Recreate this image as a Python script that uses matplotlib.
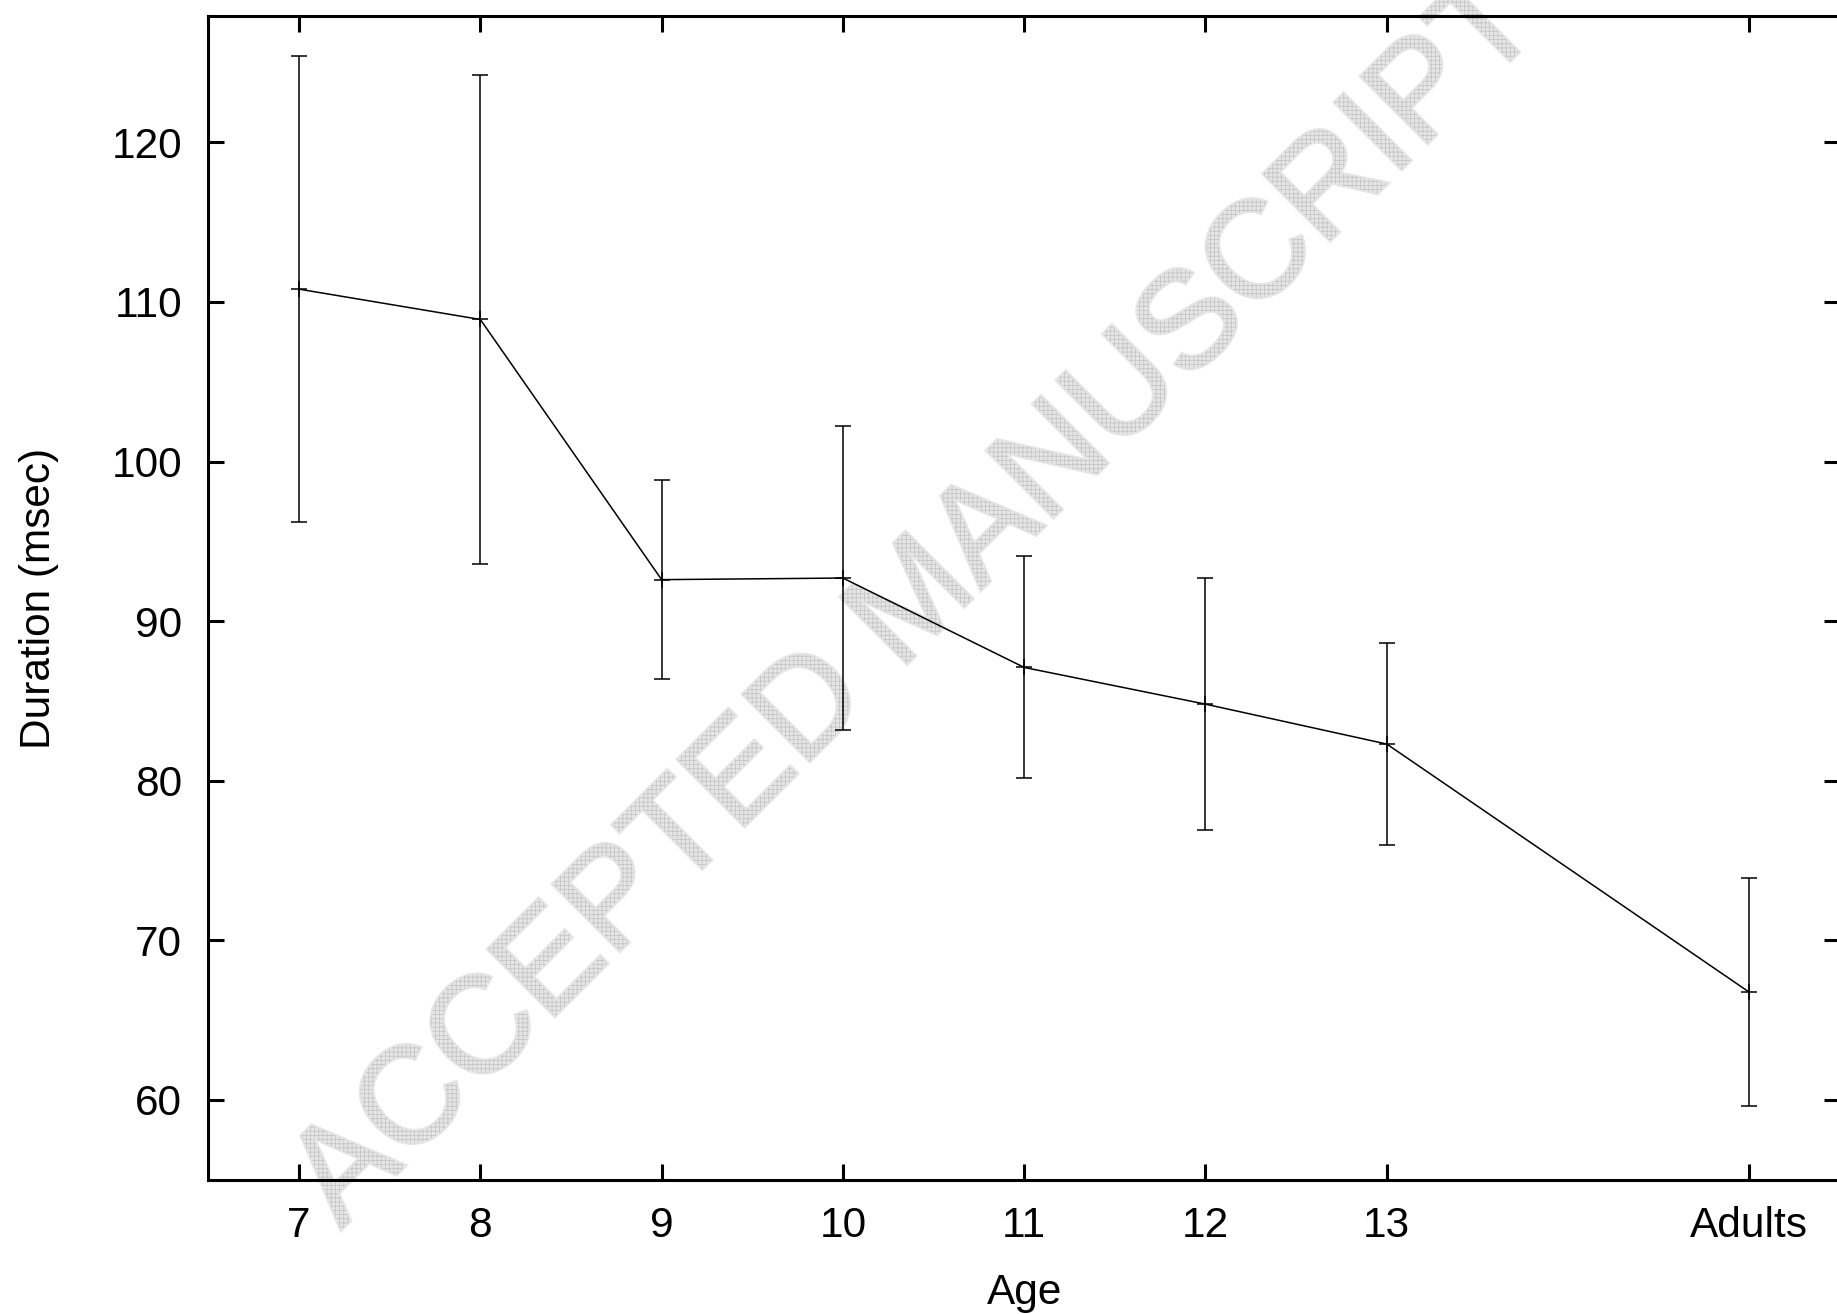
import matplotlib
matplotlib.use("Agg")
import matplotlib.pyplot as plt
from matplotlib.textpath import TextPath
from matplotlib.patches import PathPatch
from matplotlib.font_manager import FontProperties
from matplotlib import transforms
import numpy as np

# ---- data ----
age_positions = [7, 8, 9, 10, 11, 12, 13, 15]
age_labels = ["7", "8", "9", "10", "11", "12", "13", "Adults"]
duration_mean = [110.8, 108.9, 92.6, 92.7, 87.1, 84.8, 82.3, 66.75]
duration_err = [14.6, 15.3, 6.25, 9.5, 6.95, 7.9, 6.3, 7.15]
y_ticks = [60, 70, 80, 90, 100, 110, 120]

plt.rcParams['font.family'] = ['Liberation Sans', 'DejaVu Sans']
plt.rcParams['hatch.linewidth'] = 0.6

W, H = 1837, 1314
fig = plt.figure(figsize=(W / 100, H / 100), dpi=100)
ax = fig.add_axes([208.4 / W, 1 - 1179.8 / H, (1840 - 208.4) / W, (1179.8 - 16.2) / H])
ax.set_facecolor('none')

# watermark
fp = FontProperties(family='Liberation Sans')
tp = TextPath((0, 0), "ACCEPTED MANUSCRIPT", size=138, prop=fp)
bb = tp.get_extents()
cx, cy = 908, H - 596
tr = (transforms.Affine2D()
      .translate(-(bb.x0 + bb.x1) / 2, -(bb.y0 + bb.y1) / 2)
      .rotate_deg(45)
      .translate(cx, cy))
wpath = tr.transform_path(tp)
wm_fill = PathPatch(wpath, facecolor='#e6e6e6', edgecolor='#e6e6e6', lw=2.5,
                    transform=transforms.IdentityTransform(), zorder=-6)
wm_hatch = PathPatch(wpath, facecolor='none', edgecolor='#c6c6c6',
                     hatch='++++', lw=0, transform=transforms.IdentityTransform(), zorder=-5)
fig.patches.append(wm_fill)
fig.patches.append(wm_hatch)

ax.errorbar(age_positions, duration_mean, yerr=duration_err, color='black',
            lw=1.1, elinewidth=1.1, capsize=5.8, capthick=1.1,
            marker='+', markersize=12, mew=1.1, zorder=3)

ax.set_xlim(6.5, 15.5)
ax.set_ylim(55, 127.9)
ax.set_xticks(age_positions)
ax.set_xticklabels(age_labels)
ax.set_yticks(y_ticks)

for s in ax.spines.values():
    s.set_linewidth(2.2)
ax.tick_params(direction='in', length=11.5, width=2.2, labelsize=30.5, pad=19,
               top=True, right=True, colors='black')
ax.set_xlabel("Age", fontsize=30.5, labelpad=19)
ax.set_ylabel("Duration (msec)", fontsize=30.5, labelpad=38)

fig.savefig("out.png", dpi=100)
